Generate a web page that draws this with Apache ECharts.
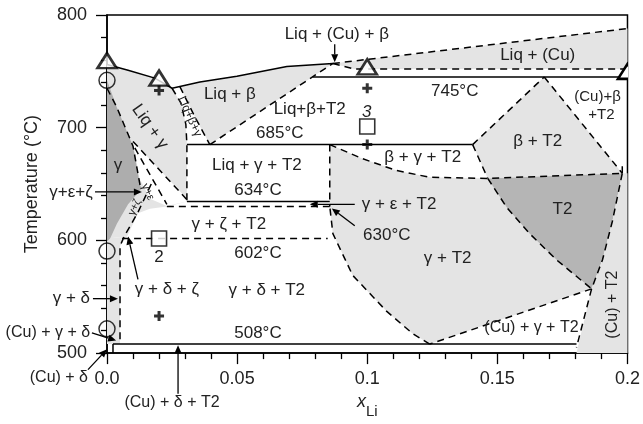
<!DOCTYPE html>
<html><head><meta charset="utf-8">
<script src="https://cdn.jsdelivr.net/npm/echarts@6/dist/echarts.min.js"></script>
<style>html,body{margin:0;padding:0;background:#fff}#c{width:643px;height:424px}</style>
</head><body><div id="c"></div>
<script>
// ---------- data (x_Li, Temperature °C) ----------
const X_TICKS = ['0.0','0.05','0.1','0.15','0.2'];
const Y_TICKS = [500,600,700,800];

// regions
const REG_LIQ_CU   = [[0.0868,757],[0.2,788],[0.2,752],[0.095,752]];
const REG_LIQ_BETA = [[0.028,736.5],[0.0357,740.5],[0.0499,745.7],[0.0691,754.3],[0.0868,757],[0.0395,685],[0.0338,709.5]];
const REG_LIQ_GAMMA= [[0,756],[0.0081,751],[0.0184,744],[0.025,735],[0.0284,722],[0.0303,703],[0.0307,685],[0.0307,634.5],[0.023,630],[0.0165,628],[0.0119,624],[0.0077,603.4],[0,601.7]];
const REG_GAMMA_EPS= [[0.01,687.8],[0.0307,637],[0.0307,634.5],[0.023,630.5],[0.0165,637],[0.0125,655]];
const REG_GAMMA_DELTA = [[0,601.7],[0.0077,603.4],[0.005,595],[0.005,508],[0,508]];
const REG_GAMMA    = [[0,742],[0.0038,718],[0.01,683.6],[0.0127,649],[0.0134,646],[0.0081,632],[0.0038,614.7],[0.0012,601.7],[0,599]];
const REG_BETA_T2  = [[0.168,745],[0.1405,685],[0.1463,655],[0.198,659.5]];
const REG_GAMMA_T2 = [[0.0856,685],[0.0983,672.4],[0.1113,662],[0.124,656],[0.1463,655],[0.1536,629.3],[0.1624,606],[0.1727,582.8],[0.1862,557],[0.124,508],[0.1175,517.2],[0.1075,537],[0.0944,569],[0.0868,606],[0.0856,630]];
const REG_T2       = [[0.1463,655],[0.1536,629.3],[0.1624,606],[0.1727,582.8],[0.1862,557],[0.1904,582.8],[0.1942,617],[0.198,659.5]];
const REG_CU_T2    = [[0.198,659.5],[0.2,659.5],[0.2,500],[0.1804,500],[0.1862,557],[0.1904,582.8],[0.1942,617]];

// solid lines
const LIQUIDUS = [[0,756],[0.0081,751],[0.0184,744],[0.025,735],[0.0357,740.5],[0.0499,745.7],[0.0691,754.3],[0.0868,757]];
const ISO_745 = [[0.079,745],[0.2,745]];
const ISO_685 = [[0.0307,685],[0.1405,685]];
const ISO_634 = [[0.0307,634.5],[0.0856,634.5]];
const ISO_508 = [[0.0023,508],[0.1804,508]];
const CU_DELTA = [[0.0023,500],[0.0023,508]];

// dashed lines
const DASHED = [
  [[0.025,735],[0.0284,722],[0.0303,703],[0.0307,685],[0.0307,634.5]],
  [[0.028,736.5],[0.0338,709.5],[0.0395,685]],
  [[0.0395,685],[0.0868,757]],
  [[0.0868,757],[0.2,788]],
  [[0.0868,757],[0.095,752],[0.2,752]],
  [[0.0856,685],[0.0856,630]],
  [[0.023,630],[0.0856,630]],
  [[0.0058,601.7],[0.0848,601.7]],
  [[0.0856,685],[0.0983,672.4],[0.1113,662],[0.124,656],[0.1463,655],[0.198,659.5]],
  [[0.1405,685],[0.1463,655]],
  [[0.1405,685],[0.168,745]],
  [[0.168,745],[0.198,659.5]],
  [[0.198,659.5],[0.198,666]],
  [[0.1463,655],[0.1536,629.3],[0.1624,606],[0.1727,582.8],[0.1862,557]],
  [[0.198,659.5],[0.1942,617],[0.1904,582.8],[0.1862,557]],
  [[0.1862,557],[0.124,508]],
  [[0.1862,557],[0.1804,505]],
  [[0.124,508],[0.1175,517.2],[0.1075,537],[0.0944,569],[0.0868,606],[0.0856,630]],
  [[0,735],[0.0038,718],[0.01,683.6],[0.0127,649]],
  [[0.01,687.8],[0.0307,636.2]],
  [[0.0107,682],[0.023,632]],
  [[0.017,650],[0.0119,625],[0.0065,603]],
  [[0.0065,603],[0.005,595],[0.005,508]]
];

// experimental markers
const TRIANGLES = [[0,759.5],[0.02,744],[0.1,754]];
const TRIANGLES_EDGE = [[0.2,750]];
const CIRCLES   = [[0,742],[0,590.5],[0,521.5]];
const SQUARES   = [[0.02,601.7],[0.1,701]];
const CROSSES   = [[0.02,733],[0.02,533],[0.1,735],[0.1,685]];

// annotations
const LABELS = [
  {t:'Liq + (Cu) + β', x:0.0883, T:782.8},
  {t:'Liq + (Cu)', x:0.1655, T:763.8},
  {t:'745°C', x:0.1336, T:731.9},
  {t:'(Cu)+β', x:0.1885, T:727.6, fs:15},
  {t:'+T2', x:0.19, T:711.2, fs:15},
  {t:'β + T2', x:0.1655, T:688},
  {t:'T2', x:0.175, T:627.6},
  {t:'β + γ + T2', x:0.1213, T:673.3},
  {t:'γ + ε + T2', x:0.0979, T:632, align:'left'},
  {t:'630°C', x:0.1075, T:604.3},
  {t:'γ + T2', x:0.1309, T:584.5},
  {t:'(Cu) + γ + T2', x:0.1631, T:522.4, fs:16},
  {t:'(Cu) + T2', x:0.1942, T:543, rot:90, fs:16},
  {t:'508°C', x:0.058, T:517.2},
  {t:'γ + δ + T2', x:0.0614, T:556},
  {t:'602°C', x:0.058, T:588.8},
  {t:'γ + ζ + T2', x:0.0468, T:614.7},
  {t:'634°C', x:0.058, T:644.8},
  {t:'Liq + γ + T2', x:0.0576, T:666.4},
  {t:'685°C', x:0.0664, T:694.8},
  {t:'Liq+β+T2', x:0.0779, T:716.4},
  {t:'Liq + β', x:0.0472, T:729.3},
  {t:'Liq + γ', x:0.0165, T:700.9, rot:-55},
  {t:'Liq+β+γ', x:0.0318, T:710, rot:-66, fs:12},
  {t:'γ', x:0.0042, T:666.4},
  {t:'γ+ε', x:0.0157, T:643, rot:-65, fs:11},
  {t:'γ+ζ', x:0.0107, T:629.3, rot:65, fs:11},
  {t:'γ + δ + ζ', x:0.023, T:556.9},
  {t:'2', x:0.02, T:585.3},
  {t:'3', x:0.0998, T:713.8, italic:true},
  {t:'γ+ε+ζ', x:-0.0055, T:643, align:'right'},
  {t:'γ + δ', x:-0.0065, T:548.3, align:'right'},
  {t:'(Cu) + γ + δ', x:-0.0065, T:518, align:'right', fs:16},
  {t:'(Cu) + δ', x:-0.0073, T:478.4, align:'right', fs:16},
  {t:'(Cu) + δ + T2', x:0.025, T:456, fs:16}
];
const ARROWS = [
  [[0.0875,774],[0.0875,758]],
  [[0.0952,632],[0.0779,632]],
  [[0.0952,613],[0.0864,628.4]],
  [[-0.0046,643],[0.0134,643]],
  [[-0.0054,548.3],[0.0042,548.3]],
  [[-0.0058,518],[0.0035,511.2]],
  [[-0.0073,485.3],[0,503.4]],
  [[0.0273,464],[0.0273,507]],
  [[0.0119,565.5],[0.0081,603.4]]
];

// ---------- chart ----------
const FONT = '"Liberation Sans", Arial, sans-serif';
const TXT = '#222';
const LIGHT = '#e4e4e4', DARK = '#adadad', T2C = '#b5b5b5';

function poly(points, color, z) {
  return {type:'custom', coordinateSystem:'cartesian2d', silent:true, z:z, clip:true,
    data:[[0.1,650]],
    renderItem:(p, api)=>({type:'polygon', shape:{points:points.map(q=>api.coord(q))}, style:{fill:color}})};
}
function line(points, dashed, z) {
  return {type:'line', data:points, symbol:'none', silent:true, z:z||3, animation:false,
    lineStyle:{color:'#000', width:1.5, type: dashed ? [7,5] : 'solid'}};
}

const series = [
  poly(REG_LIQ_CU, LIGHT, 1), poly(REG_LIQ_BETA, LIGHT, 1), poly(REG_LIQ_GAMMA, LIGHT, 1),
  poly(REG_GAMMA_EPS, '#fff', 1), poly(REG_GAMMA_DELTA, LIGHT, 1), poly(REG_GAMMA, DARK, 1),
  poly(REG_BETA_T2, LIGHT, 1), poly(REG_GAMMA_T2, LIGHT, 1), poly(REG_T2, T2C, 1), poly(REG_CU_T2, LIGHT, 1),
  line(LIQUIDUS, false, 4), line(ISO_745, false), line(ISO_685, false), line(ISO_634, false),
  line(ISO_508, false), line(CU_DELTA, false)
];
DASHED.forEach(d => series.push(line(d, true)));

series.push({type:'custom', coordinateSystem:'cartesian2d', silent:true, z:6, clip:false,
  data: ARROWS.map(a=>a[0]),
  renderItem:(p, api)=>{
    const a = ARROWS[p.dataIndex];
    const s = api.coord(a[0]), e = api.coord(a[1]);
    const dx = e[0]-s[0], dy = e[1]-s[1], L = Math.hypot(dx,dy), ux = dx/L, uy = dy/L;
    const hl = 8, hw = 3.5;
    const b = [e[0]-ux*hl, e[1]-uy*hl];
    return {type:'group', children:[
      {type:'line', shape:{x1:s[0],y1:s[1],x2:b[0],y2:b[1]}, style:{stroke:'#000', lineWidth:1.3}},
      {type:'polygon', shape:{points:[e,[b[0]-uy*hw,b[1]+ux*hw],[b[0]+uy*hw,b[1]-ux*hw]]}, style:{fill:'#000'}}
    ]};
  }});

series.push({type:'scatter', data:CIRCLES, symbol:'circle', symbolSize:16, z:7, silent:true,
  itemStyle:{color:'rgba(0,0,0,0)', borderColor:'#000', borderWidth:1.5}});
series.push({type:'scatter', data:TRIANGLES, symbol:'triangle', symbolSize:[19,15], z:8, silent:true,
  itemStyle:{color:'#fff', borderColor:'#000', borderWidth:2.6}});
// triangle on the right frame, clipped by the plot area
series.push({type:'custom', coordinateSystem:'cartesian2d', silent:true, z:8, clip:true,
  data: TRIANGLES_EDGE,
  renderItem:(p, api)=>{
    const c = api.coord(TRIANGLES_EDGE[p.dataIndex]);
    return {type:'polygon', shape:{points:[[c[0],c[1]-7.5],[c[0]+9.5,c[1]+7.5],[c[0]-9.5,c[1]+7.5]]},
      style:{fill:'#fff', stroke:'#000', lineWidth:2.6}};
  }});
series.push({type:'scatter', data:SQUARES, symbol:'rect', symbolSize:[15,15], z:7, silent:true,
  itemStyle:{color:'#fff', borderColor:'#000', borderWidth:1.6}});
series.push({type:'scatter', data:CROSSES, symbol:'path://M3.5,0H6.5V3.5H10V6.5H6.5V10H3.5V6.5H0V3.5H3.5Z', symbolSize:10, z:9, silent:true,
  itemStyle:{color:'#000'}});

series.push({type:'custom', coordinateSystem:'cartesian2d', silent:true, z:10, clip:false,
  data: LABELS.map(l=>[l.x,l.T]),
  renderItem:(p, api)=>{
    const l = LABELS[p.dataIndex];
    const c = api.coord([l.x, l.T]);
    return {type:'text', x:c[0], y:c[1], rotation:(l.rot||0)*Math.PI/180,
      style:{text:l.t, fill:TXT, font:(l.italic?'italic ':'')+(l.fs||17)+'px '+FONT, align:l.align||'center', verticalAlign:'middle'}};
  }});

const chart = echarts.init(document.getElementById('c'), null, {renderer:'canvas'});
chart.setOption({
  animation:false,
  backgroundColor:'#fff',
  grid:{left:107, right:15, top:15, bottom:61, show:true, borderColor:'#000', borderWidth:1.5, backgroundColor:'transparent'},
  xAxis:{type:'value', min:0, max:0.2, interval:0.05,
    axisLine:{lineStyle:{color:'#000', width:1.5}},
    axisTick:{length:11, lineStyle:{color:'#000', width:1.3}},
    minorTick:{show:true, splitNumber:5, length:6, lineStyle:{color:'#000', width:1.3}},
    splitLine:{show:false},
    axisLabel:{fontSize:18, color:TXT, fontFamily:FONT, margin:17, formatter:v=>X_TICKS[Math.round(v/0.05)]},
    name:'{i|x}{s|Li}', nameLocation:'middle', nameGap:33,
    nameTextStyle:{rich:{i:{fontSize:18, fontStyle:'italic', color:TXT, fontFamily:FONT, verticalAlign:'top', lineHeight:26}, s:{fontSize:15, color:TXT, fontFamily:FONT, verticalAlign:'bottom', lineHeight:26}}}},
  yAxis:{type:'value', min:500, max:800, interval:100,
    axisLine:{lineStyle:{color:'#000', width:1.5}},
    axisTick:{length:11, lineStyle:{color:'#000', width:1.3}},
    minorTick:{show:true, splitNumber:5, length:6, lineStyle:{color:'#000', width:1.3}},
    splitLine:{show:false},
    axisLabel:{fontSize:18, color:TXT, fontFamily:FONT, margin:20, formatter:v=>String(Y_TICKS[Y_TICKS.indexOf(v)])},
    name:'Temperature (°C)', nameLocation:'middle', nameGap:66,
    nameTextStyle:{fontSize:18, color:TXT, fontFamily:FONT}},
  series: series
});
</script></body></html>
